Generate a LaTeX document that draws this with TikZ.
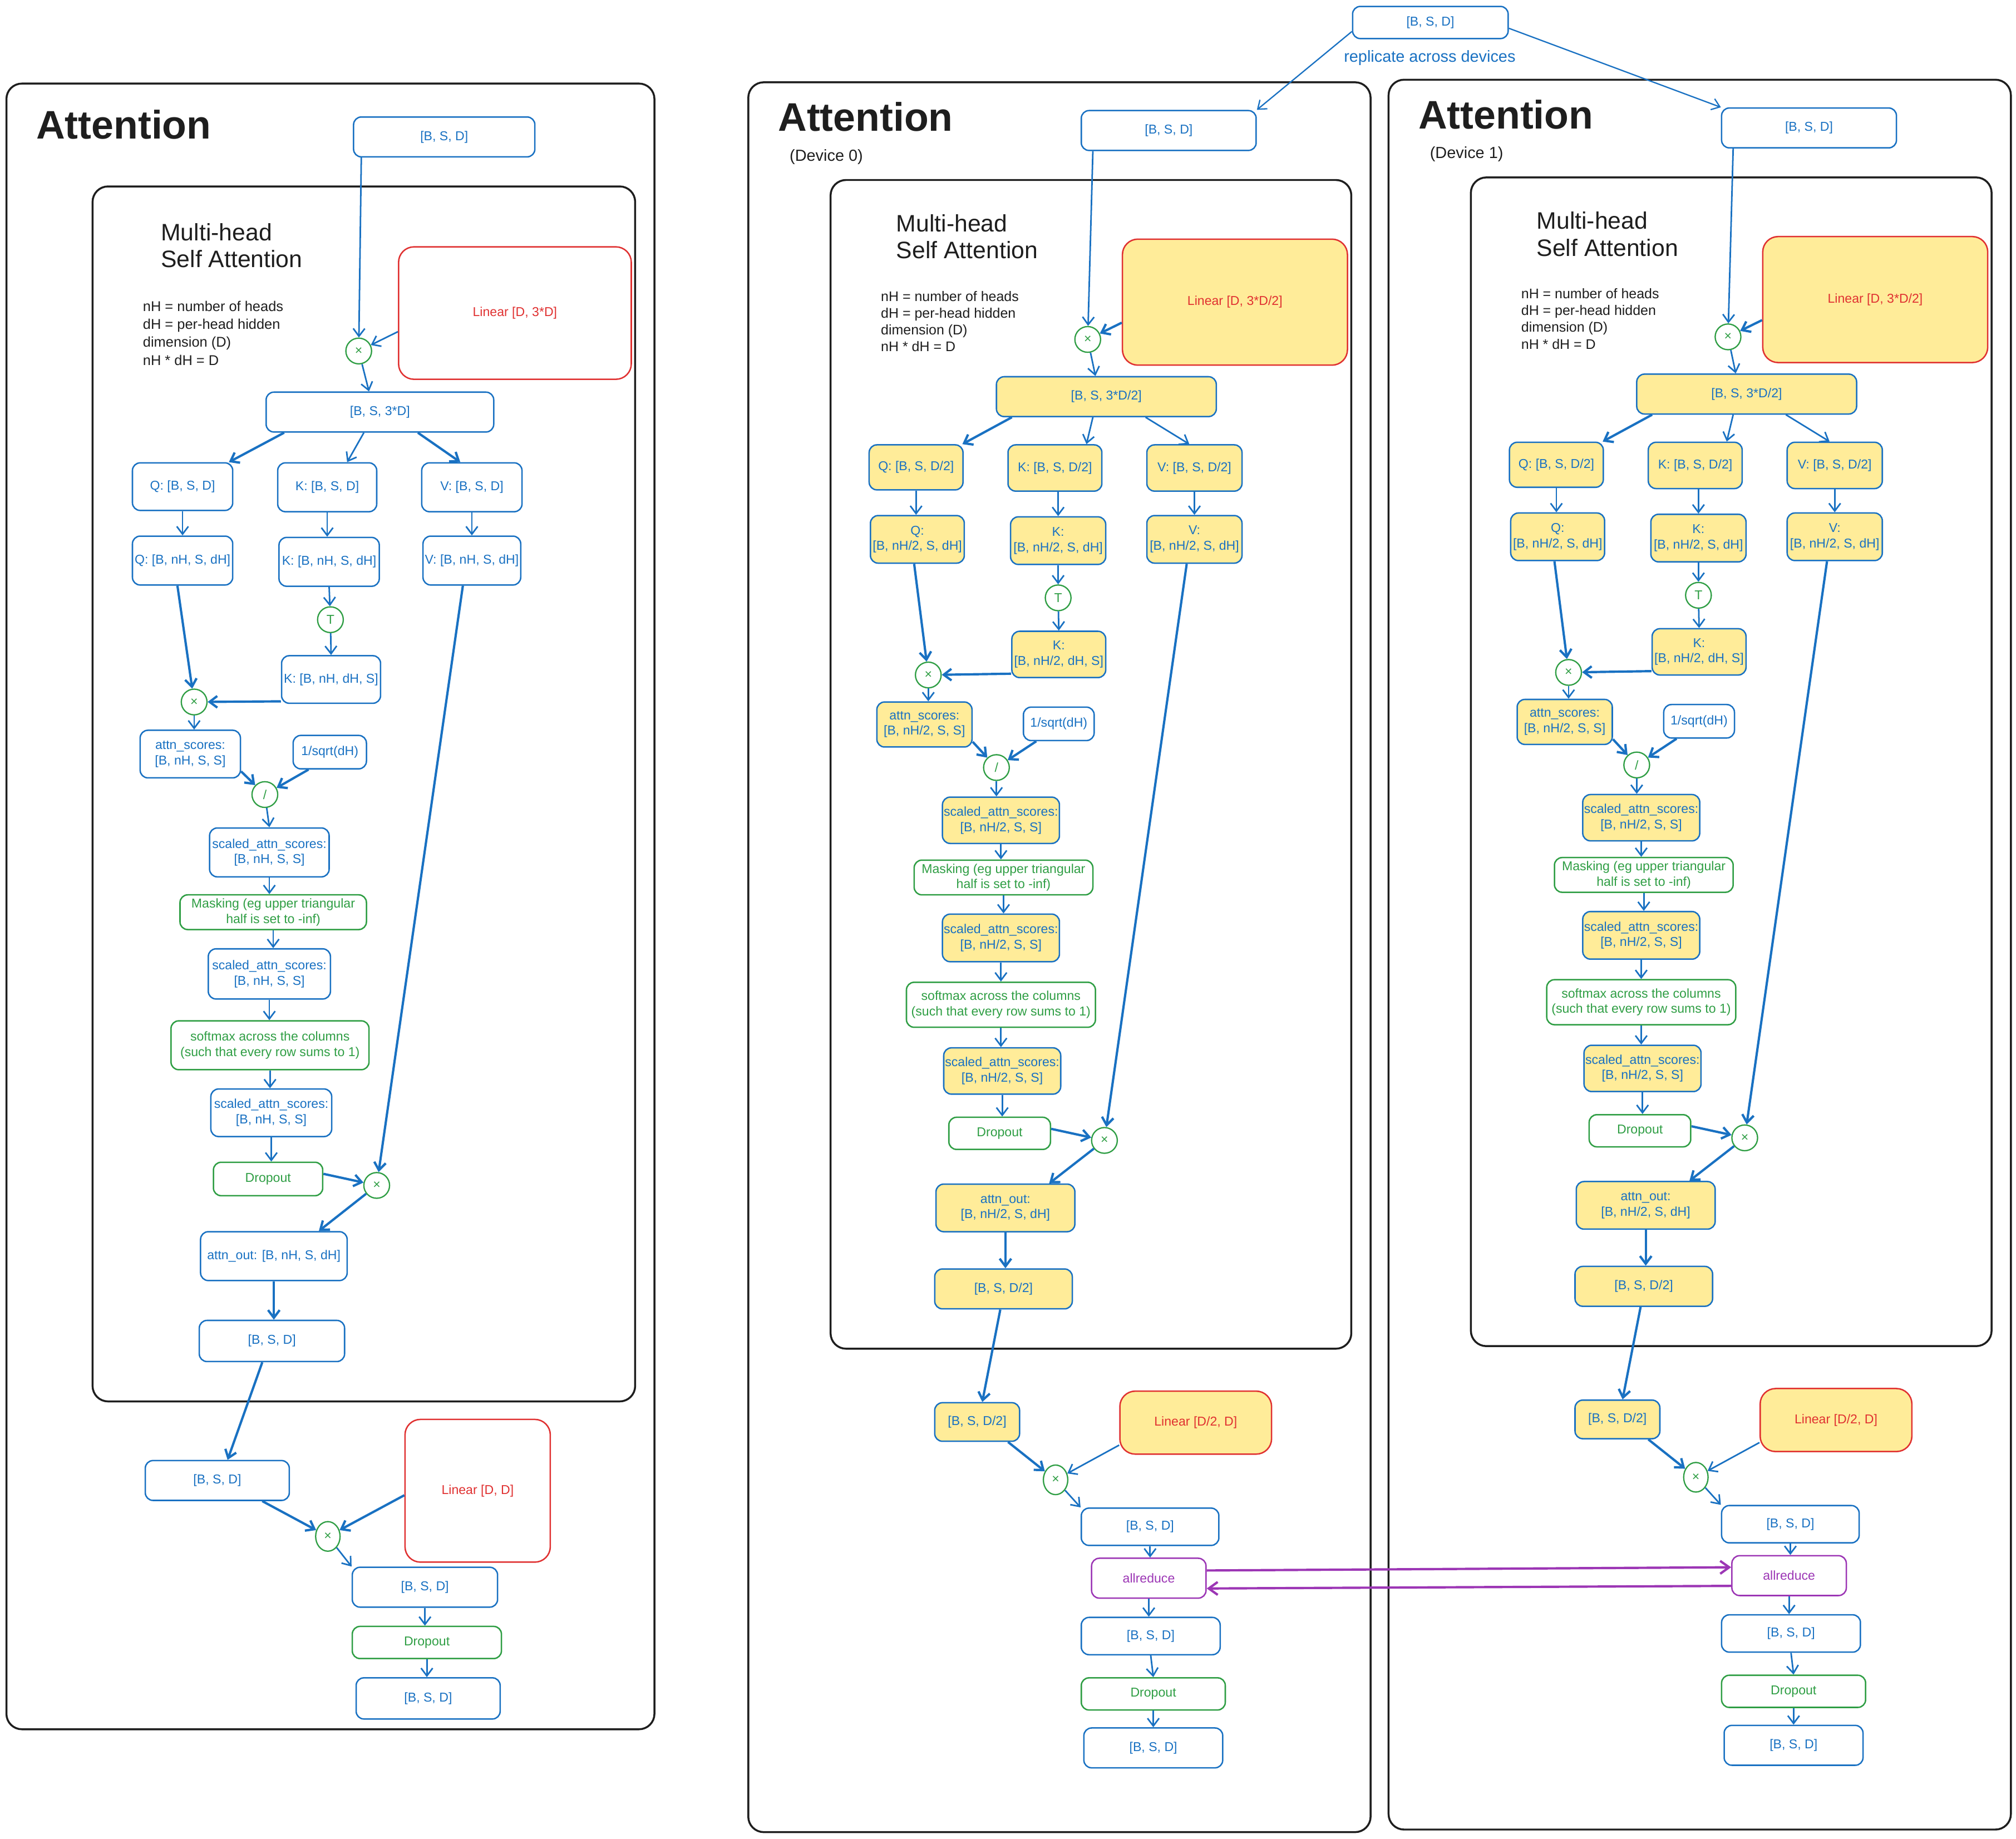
\documentclass[tikz,border=0pt]{standalone}
\usepackage{fontspec}
\setmainfont{Liberation Sans}
\usetikzlibrary{arrows.meta,shapes.geometric}
\definecolor{cblue}{HTML}{1971C2}
\definecolor{cgreen}{HTML}{2F9E44}
\definecolor{cred}{HTML}{E03131}
\definecolor{cyel}{HTML}{FFEC99}
\definecolor{cpurp}{HTML}{9C36B5}
\definecolor{cblack}{HTML}{1E1E1E}
\newcommand\lab{\fontsize{10}{12}\selectfont}
\newcommand\bnode[7]{\node[#1, minimum width={(#5-#3)*1pt}, minimum height={(#6-#4)*1pt}] (#2) at ({(#3+#5)/2},{(#4+#6)/2}) {#7};}
\newcommand\nl{\\\relax}
\tikzset{
  bx/.style={draw=cblue, line width=1.1pt, rounded corners=6pt, text=cblue, font=\lab, align=center, inner sep=0.5pt},
  yb/.style={bx, fill=cyel},
  gb/.style={bx, draw=cgreen, text=cgreen},
  pb/.style={bx, draw=cpurp, text=cpurp},
  rb/.style={bx, draw=cred, text=cred, rounded corners=12pt},
  ryb/.style={rb, fill=cyel},
  op/.style={circle, draw=cgreen, fill=white, line width=1pt, text=cgreen, minimum size=20pt, inner sep=0pt, font=\fontsize{10}{10}\selectfont},
  opE/.style={ellipse, draw=cgreen, fill=white, line width=1pt, text=cgreen, minimum width=19pt, minimum height=23pt, inner sep=0pt, font=\fontsize{10}{10}\selectfont},
  arr/.style={draw=cblue, line width=1.2pt, -{Straight Barb[length=6pt,width=9pt]}},
  tarr/.style={arr, line width=1.8pt},
  parr/.style={draw=cpurp, line width=1.8pt, -{Straight Barb[length=7pt,width=10pt]}},
  frame/.style={draw=cblack, line width=1.5pt, rounded corners=12pt},
  title/.style={anchor=base west, inner sep=0pt, text=cblack, font=\fontsize{31}{31}\selectfont\bfseries},
  devl/.style={anchor=west, inner sep=0pt, text=cblack, font=\fontsize{12.5}{14}\selectfont},
  sub/.style={anchor=west, inner sep=0pt, text=cblack, align=left, font=\fontsize{18.5}{21}\selectfont},
  note/.style={anchor=west, inner sep=0pt, text=cblack, align=left, font=\fontsize{10.8}{13}\selectfont},
  rep/.style={inner sep=0pt, text=cblue, font=\fontsize{12.5}{14}\selectfont},
}
\newcommand\devpanel[2]{%
\draw[frame] (582,64) rectangle (1066,1425);
\draw[frame] (646,140) rectangle (1051,1049);
\node[title] (#1title) at (605,102) {Attention};
\node[devl] (#1dev) at (614,122) {(Device #2)};
\node[sub] (#1mh) at (697,184) {Multi-head\\Self Attention};
\node[note] (#1note) at (685,250) {nH = number of heads\\dH = per-head hidden\\dimension (D)\\nH * dH = D};
\bnode{bx}{#1in}{841}{86}{977}{117}{[B, S, D]}
\bnode{ryb}{#1lin}{873}{186}{1048}{284}{Linear [D, 3*D/2]}
\node[op] (#1x1) at (846,264) {×};
\bnode{yb}{#1qkv}{775}{293}{946}{324}{[B, S, 3*D/2]}
\bnode{yb}{#1q1}{676}{346}{749}{381}{Q: [B, S, D/2]}
\bnode{yb}{#1k1}{784}{346}{857}{382}{K: [B, S, D/2]}
\bnode{yb}{#1v1}{892}{346}{966}{382}{V: [B, S, D/2]}
\bnode{yb}{#1q2}{677}{401}{750}{438}{Q:\nl[B, nH/2, S, dH]}
\bnode{yb}{#1k2}{786}{402}{860}{439}{K:\nl[B, nH/2, S, dH]}
\bnode{yb}{#1v2}{892}{401}{966}{438}{V:\nl[B, nH/2, S, dH]}
\node[op] (#1T) at (823,465) {T};
\bnode{yb}{#1k3}{787}{491}{860}{527}{K:\nl[B, nH/2, dH, S]}
\node[op] (#1x2) at (722,525) {×};
\bnode{yb}{#1as}{682}{546}{756}{581}{attn\_scores:\nl[B, nH/2, S, S]}
\bnode{bx}{#1sq}{796}{550}{851}{576}{1/sqrt(dH)}
\node[op] (#1div) at (775,597) {/};
\bnode{yb}{#1s1}{733}{620}{824}{656}{scaled\_attn\_scores:\nl[B, nH/2, S, S]}
\bnode{gb}{#1mask}{711}{669}{850}{696}{Masking (eg upper triangular\\half is set to -inf)}
\bnode{yb}{#1s2}{733}{711}{824}{748}{scaled\_attn\_scores:\nl[B, nH/2, S, S]}
\bnode{gb}{#1sm}{705}{764}{852}{799}{softmax across the columns\\(such that every row sums to 1)}
\bnode{yb}{#1s3}{734}{815}{825}{851}{scaled\_attn\_scores:\nl[B, nH/2, S, S]}
\bnode{gb}{#1drop}{738}{869}{817}{894}{Dropout}
\node[op] (#1x3) at (859,887) {×};
\bnode{yb}{#1ao}{728}{921}{836}{958}{attn\_out:\nl[B, nH/2, S, dH]}
\bnode{yb}{#1o1}{727}{987}{834}{1018}{[B, S, D/2]}
\bnode{yb}{#1o2}{727}{1091}{793}{1121}{[B, S, D/2]}
\bnode{ryb}{#1lin2}{871}{1082}{989}{1131}{Linear [D/2, D]}
\node[opE] (#1x4) at (821,1151) {×};
\bnode{bx}{#1o3}{841}{1173}{948}{1202}{[B, S, D]}
\bnode{pb}{#1ar}{849}{1212}{938}{1243}{allreduce}
\bnode{bx}{#1o4}{841}{1258}{949}{1287}{[B, S, D]}
\bnode{gb}{#1drop2}{841}{1305}{953}{1330}{Dropout}
\bnode{bx}{#1o5}{843}{1344}{951}{1375}{[B, S, D]}
\draw[arr] ([xshift=-59pt]#1in.south) -- (#1x1);
\draw[tarr] ([yshift=-16pt]#1lin.west) -- (#1x1);
\draw[arr] (#1x1) -- ([xshift=-8.5pt]#1qkv.north);
\draw[tarr] ([xshift=-73.5pt]#1qkv.south) -- ([xshift=36pt]#1q1.north);
\draw[arr] ([xshift=-10.5pt]#1qkv.south) -- ([xshift=24.5pt]#1k1.north);
\draw[arr] ([xshift=30.5pt]#1qkv.south) -- ([xshift=-4pt]#1v1.north);
\draw[arr] (#1q1.south) -- (#1q1.south |- #1q2.north);
\draw[arr] ([xshift=2.5pt]#1k1.south) -- (#1k2.north);
\draw[arr] (#1v1.south) -- (#1v2.north);
\draw[arr] (#1k2.south) -- (#1T);
\draw[arr] (#1T) -- (#1k3.north);
\draw[tarr] ([xshift=-2.5pt]#1q2.south) -- (#1x2);
\draw[tarr] ([yshift=-15pt]#1k3.west) -- (#1x2);
\draw[arr] (#1x2) -- (#1x2 |- #1as.north);
\draw[tarr] ([yshift=-13.5pt]#1as.east) -- (#1div);
\draw[tarr] ([xshift=-17.5pt]#1sq.south) -- (#1div);
\draw[arr] (#1div) -- (#1div |- #1s1.north);
\draw[arr] (#1s1.south) -- (#1s1.south |- #1mask.north);
\draw[arr] (#1mask.south) -- (#1mask.south |- #1s2.north);
\draw[arr] (#1s2.south) -- (#1s2.south |- #1sm.north);
\draw[arr] (#1sm.south) -- (#1sm.south |- #1s3.north);
\draw[arr] (#1s3.south) -- (#1s3.south |- #1drop.north);
\draw[tarr] ([yshift=3.5pt]#1drop.east) -- (#1x3);
\draw[tarr] ([xshift=-6pt]#1v2.south) -- (#1x3);
\draw[tarr] (#1x3) -- ([xshift=34pt]#1ao.north);
\draw[tarr] (#1ao.south) -- (#1ao.south |- #1o1.north);
\draw[tarr] ([xshift=-2.5pt]#1o1.south) -- ([xshift=4pt]#1o2.north);
\draw[tarr] ([xshift=24pt]#1o2.south) -- (#1x4);
\draw[arr] ([yshift=-17.5pt]#1lin2.west) -- (#1x4);
\draw[arr] (#1x4) -- (#1o3.north west);
\draw[arr] (#1o3.south) -- (#1o3.south |- #1ar.north);
\draw[arr] (#1ar.south) -- (#1ar.south |- #1o4.north);
\draw[arr] (#1o4.south) -- (#1drop2.north);
\draw[arr] (#1drop2.south) -- (#1drop2.south |- #1o5.north);
}
\begin{document}
\begin{tikzpicture}[x=1pt,y=-1pt]
\useasboundingbox (0,0) rectangle (1568,1430);
\fill[white] (0,0) rectangle (1568,1430);
% ---------------- left panel ----------------
\draw[frame] (5,65) rectangle (509,1345);
\draw[frame] (72,145) rectangle (494,1090);
\node[title] (Ltitle) at (28,108) {Attention};
\node[sub] (Lmh) at (125,191) {Multi-head\\Self Attention};
\node[note, font=\fontsize{11}{14}\selectfont] (Lnote) at (111,259) {nH = number of heads\\dH = per-head hidden\\dimension (D)\\nH * dH = D};
\bnode{bx}{Lin}{275}{91}{416}{122}{[B, S, D]}
\bnode{rb}{Llin}{310}{192}{491}{295}{Linear [D, 3*D]}
\node[op] (Lx1) at (279,273) {×};
\bnode{bx}{Lqkv}{207}{305}{384}{336}{[B, S, 3*D]}
\bnode{bx}{Lq1}{103}{360}{181}{397}{Q: [B, S, D]}
\bnode{bx}{Lk1}{216}{360}{293}{398}{K: [B, S, D]}
\bnode{bx}{Lv1}{328}{360}{406}{398}{V: [B, S, D]}
\bnode{bx}{Lq2}{103}{417}{181}{455}{Q: [B, nH, S, dH]}
\bnode{bx}{Lk2}{217}{418}{295}{456}{K: [B, nH, S, dH]}
\bnode{bx}{Lv2}{329}{417}{405}{455}{V: [B, nH, S, dH]}
\node[op] (LT) at (257,482) {T};
\bnode{bx}{Lk3}{219}{510}{296}{547}{K: [B, nH, dH, S]}
\node[op] (Lx2) at (151,546) {×};
\bnode{bx}{Las}{109}{568}{187}{605}{attn\_scores:\nl[B, nH, S, S]}
\bnode{bx}{Lsq}{228}{572}{285}{598}{1/sqrt(dH)}
\node[op] (Ldiv) at (206,618) {/};
\bnode{bx}{Ls1}{163}{644}{256}{682}{scaled\_attn\_scores:\nl[B, nH, S, S]}
\bnode{gb}{Lmask}{140}{696}{285}{723}{Masking (eg upper triangular\\half is set to -inf)}
\bnode{bx}{Ls2}{162}{738}{257}{777}{scaled\_attn\_scores:\nl[B, nH, S, S]}
\bnode{gb}{Lsm}{133}{794}{287}{832}{softmax across the columns\\(such that every row sums to 1)}
\bnode{bx}{Ls3}{164}{847}{258}{884}{scaled\_attn\_scores:\nl[B, nH, S, S]}
\bnode{gb}{Ldrop}{166}{904}{251}{930}{Dropout}
\node[op] (Lx3) at (293,922) {×};
\bnode{bx}{Lao}{156}{958}{270}{996}{attn\_out: [B, nH, S, dH]}
\bnode{bx}{Lo1}{155}{1027}{268}{1059}{[B, S, D]}
\bnode{bx}{Lo2}{113}{1136}{225}{1167}{[B, S, D]}
\bnode{rb}{Llin2}{315}{1104}{428}{1215}{Linear [D, D]}
\node[opE] (Lx4) at (255,1195) {×};
\bnode{bx}{Lo3}{274}{1219}{387}{1250}{[B, S, D]}
\bnode{gb}{Ldrop2}{274}{1265}{390}{1290}{Dropout}
\bnode{bx}{Lo4}{277}{1305}{389}{1337}{[B, S, D]}
\draw[arr] ([xshift=-64.5pt]Lin.south) -- (Lx1);
\draw[arr] ([yshift=-14.5pt]Llin.west) -- (Lx1);
\draw[arr] (Lx1) -- ([xshift=-8.5pt]Lqkv.north);
\draw[tarr] ([xshift=-74.5pt]Lqkv.south) -- ([xshift=36pt]Lq1.north);
\draw[arr] ([xshift=-12.5pt]Lqkv.south) -- ([xshift=15.5pt]Lk1.north);
\draw[tarr] ([xshift=29.5pt]Lqkv.south) -- ([xshift=-9pt]Lv1.north);
\draw[arr] (Lq1.south) -- (Lq2.north);
\draw[arr] (Lk1.south) -- (Lk1.south |- Lk2.north);
\draw[arr] (Lv1.south) -- (Lv2.north);
\draw[arr] (Lk2.south) -- (LT);
\draw[arr] (LT) -- (Lk3.north);
\draw[tarr] ([xshift=-4pt]Lq2.south) -- (Lx2);
\draw[tarr] ([yshift=-17pt]Lk3.west) -- (Lx2);
\draw[arr] (Lx2) -- ([xshift=3pt]Las.north);
\draw[tarr] ([yshift=-13.5pt]Las.east) -- (Ldiv);
\draw[tarr] ([xshift=-16.5pt]Lsq.south) -- (Ldiv);
\draw[arr] (Ldiv) -- (Ls1.north);
\draw[arr] (Ls1.south) -- (Ls1.south |- Lmask.north);
\draw[arr] (Lmask.south) -- (Lmask.south |- Ls2.north);
\draw[arr] (Ls2.south) -- (Ls2.south |- Lsm.north);
\draw[arr] (Lsm.south) -- (Lsm.south |- Ls3.north);
\draw[arr] (Ls3.south) -- (Ls3.south |- Ldrop.north);
\draw[tarr] ([yshift=4pt]Ldrop.east) -- (Lx3);
\draw[tarr] ([xshift=-7pt]Lv2.south) -- (Lx3);
\draw[tarr] (Lx3) -- ([xshift=35pt]Lao.north);
\draw[tarr] (Lao.south) -- (Lao.south |- Lo1.north);
\draw[tarr] ([xshift=-7.5pt]Lo1.south) -- ([xshift=8pt]Lo2.north);
\draw[tarr] ([xshift=35pt]Lo2.south) -- (Lx4);
\draw[tarr] ([yshift=-3.5pt]Llin2.west) -- (Lx4);
\draw[arr] (Lx4) -- (Lo3.north west);
\draw[arr] (Lo3.south) -- (Lo3.south |- Ldrop2.north);
\draw[arr] (Ldrop2.south) -- (Ldrop2.south |- Lo4.north);
% ---------------- device panels ----------------
\begin{scope}
\devpanel{m-}{0}
\end{scope}
\begin{scope}[shift={(498,-2)}]
\devpanel{r-}{1}
\end{scope}
% ---------------- global ----------------
\bnode{bx}{top}{1052}{5}{1173}{30}{[B, S, D]}
\node[rep] (rep) at (1112,45) {replicate across devices};
\draw[arr, line width=1pt] ([yshift=-7pt]top.west) -- (m-in.north east);
\draw[arr, line width=1pt] ([yshift=-4.5pt]top.east) -- (r-in.north west);
\draw[parr] ([yshift=6pt]m-ar.east) -- ([yshift=6.5pt]r-ar.west);
\draw[parr] ([yshift=-8pt]r-ar.west) -- ([yshift=-8pt]m-ar.east);
\end{tikzpicture}
\end{document}
